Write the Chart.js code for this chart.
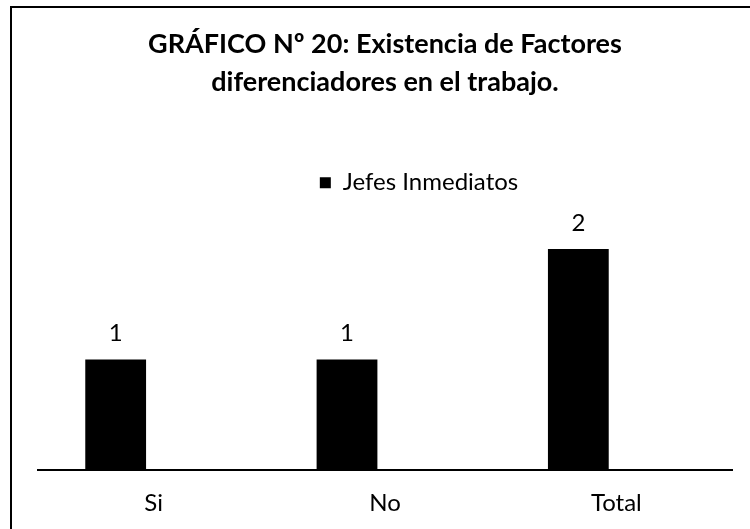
<!DOCTYPE html>
<html>
<head>
<meta charset="utf-8">
<script src="https://cdn.jsdelivr.net/npm/chart.js@4.4.1/dist/chart.umd.min.js"></script>
<style>
  html, body { margin: 0; padding: 0; background: #fff; overflow: hidden; }
  #wrap { position: relative; width: 750px; height: 529px; overflow: hidden; }
  #frame { position: absolute; left: 10px; top: 6px; width: 800px; height: 600px; border: 2px solid #000; box-sizing: border-box; }
  #c { position: absolute; left: 0; top: 0; }
</style>
</head>
<body>
<div id="wrap">
  <div id="frame"></div>
  <canvas id="c" width="838" height="543"></canvas>
</div>
<script>
  // Data
  const categories = ['Si', 'No', 'Total'];
  const jefesInmediatos = [1, 1, 2];
  const seriesName = 'Jefes Inmediatos';
  const titleLines = ['GRÁFICO Nº 20: Existencia de Factores', 'diferenciadores en el trabajo.'];

  const FONT = 'Lato, "Open Sans", sans-serif';

  // value labels above the bars
  const valueLabels = {
    id: 'valueLabels',
    afterDatasetsDraw(chart) {
      const ctx = chart.ctx;
      const meta = chart.getDatasetMeta(0);
      ctx.save();
      ctx.fillStyle = '#000';
      ctx.font = '24px ' + FONT;
      ctx.textAlign = 'center';
      ctx.textBaseline = 'bottom';
      meta.data.forEach((bar, i) => {
        ctx.fillText(String(jefesInmediatos[i]), bar.x, bar.y - 14);
      });
      ctx.restore();
    }
  };

  new Chart(document.getElementById('c'), {
    type: 'bar',
    data: {
      labels: categories,
      datasets: [
        { label: seriesName, data: jefesInmediatos, backgroundColor: '#000', borderWidth: 0 },
        { label: '', data: categories.map(() => null), backgroundColor: '#000' }
      ]
    },
    options: {
      responsive: false,
      animation: false,
      categoryPercentage: 0.657,
      barPercentage: 0.8,
      layout: { padding: { left: 0, right: 0, top: 0, bottom: 6 } },
      plugins: {
        tooltip: { enabled: false },
        title: {
          display: true,
          fullSize: false,
          text: titleLines,
          color: '#000',
          font: { family: FONT, size: 27, weight: 'bold', lineHeight: 1.42 },
          padding: { top: 25, bottom: 59 }
        },
        legend: {
          display: true,
          fullSize: true,
          labels: {
            color: '#000',
            boxWidth: 11,
            boxHeight: 11,
            font: { family: FONT, size: 24 },
            filter: (item) => item.datasetIndex === 0
          }
        }
      },
      scales: {
        x: {
          grid: { display: false, drawTicks: false },
          border: { display: true, color: '#000', width: 2 },
          ticks: { color: '#000', font: { family: FONT, size: 24 }, padding: 19 }
        },
        y: {
          min: 0,
          max: 2.4,
          afterFit: (s) => { s.width = 38; },
          grid: { display: false },
          border: { display: false },
          ticks: { display: false }
        },
        y2: {
          type: 'linear',
          position: 'right',
          display: true,
          afterFit: (s) => { s.width = 106; },
          grid: { display: false },
          border: { display: false },
          ticks: { display: false }
        }
      }
    },
    plugins: [valueLabels]
  });
</script>
</body>
</html>
